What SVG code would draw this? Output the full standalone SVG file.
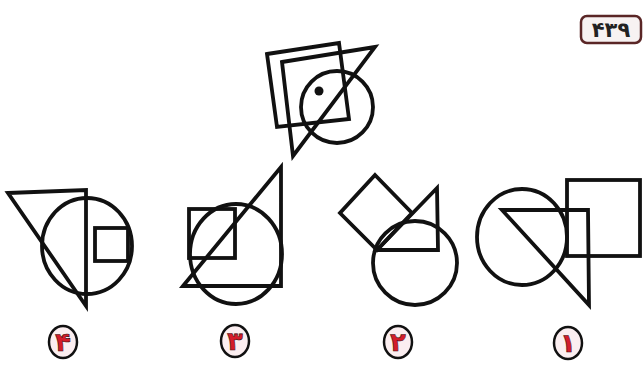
<svg xmlns="http://www.w3.org/2000/svg" width="643" height="382" viewBox="0 0 643 382">
<style>
.s{fill:none;stroke:#111;stroke-width:3.8;stroke-linejoin:miter}
.lc{fill:#fbeef0;stroke:#111;stroke-width:2.5}
.ld{font-family:"DejaVu Sans",sans-serif;font-weight:bold;font-size:26px;fill:#d41c2a;stroke:#3a0a0a;stroke-width:0.6;text-anchor:middle}
.bt{font-family:"DejaVu Sans",sans-serif;font-weight:bold;font-size:21px;fill:#222;text-anchor:middle}
</style>
<rect width="643" height="382" fill="#fff"/>
<g id="badge">
<rect x="581" y="16" width="60" height="27" rx="6" fill="#f7f2f2" stroke="#5a2626" stroke-width="2.5"/>
<text class="bt" x="611" y="37">۴۳۹</text>
</g>
<g id="question">
<polygon class="s" points="267,54 339,43 349,119 277,127"/>
<polygon class="s" points="282,62 375,47 293,156"/>
<circle class="s" cx="337" cy="107" r="36"/>
<circle cx="319" cy="91" r="4.5" fill="#111"/>
</g>
<g id="option4">
<polygon class="s" points="8,193 86,190 86,306"/>
<ellipse class="s" cx="87" cy="246" rx="45" ry="48"/>
<rect class="s" x="95" y="228" width="33" height="33"/>
</g>
<g id="option3">
<polygon class="s" points="183,286 281,167 281,286"/>
<rect class="s" x="189" y="209" width="46" height="49"/>
<ellipse class="s" cx="236" cy="254" rx="46" ry="50"/>
</g>
<g id="option2">
<polygon class="s" points="375,175 412,213 377,250 340,213"/>
<polygon class="s" points="377,250 437,188 438,250"/>
<circle class="s" cx="415" cy="263" r="42"/>
</g>
<g id="option1">
<ellipse class="s" cx="522" cy="237" rx="45" ry="48"/>
<polygon class="s" points="502,210 588,210 589,305"/>
<rect class="s" x="567" y="180" width="73" height="76"/>
</g>
<g id="label4">
<ellipse class="lc" cx="63" cy="342" rx="14" ry="16"/>
<text class="ld" x="63" y="351">۴</text>
</g>
<g id="label3">
<ellipse class="lc" cx="235" cy="341" rx="14" ry="16"/>
<text class="ld" x="235" y="350">۳</text>
</g>
<g id="label2">
<ellipse class="lc" cx="398" cy="342" rx="14" ry="16"/>
<text class="ld" x="398" y="351">۲</text>
</g>
<g id="label1">
<ellipse class="lc" cx="568" cy="343" rx="14" ry="16"/>
<text class="ld" x="568" y="352">۱</text>
</g>
</svg>
